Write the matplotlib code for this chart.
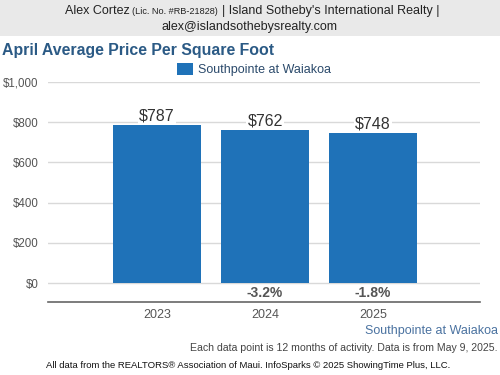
import matplotlib
matplotlib.use("Agg")
import matplotlib.pyplot as plt
from matplotlib.patches import Rectangle

plt.rcParams['font.family'] = ['Liberation Sans', 'DejaVu Sans']

years = ['2023', '2024', '2025']
prices = [787, 762, 748]
pct_change = ['', '-3.2%', '-1.8%']
series_name = 'Southpointe at Waiakoa'
yticks = [0, 200, 400, 600, 800, 1000]

BAR = '#1f72b8'
W, H = 500, 375

fig = plt.figure(figsize=(5, 3.75), dpi=100)

# header band
fig.patches.append(Rectangle((0, 1 - 36 / H), 1, 36 / H, transform=fig.transFigure,
                             facecolor='#e9e9e9', edgecolor='none', zorder=0))
fig.text(65 / W, 1 - 11 / H, 'Alex Cortez', ha='left', va='center', fontsize=9, color='#222')
fig.text(132 / W, 1 - 11.5 / H, '(Lic. No. #RB-21828)', ha='left', va='center', fontsize=6.6, color='#222')
fig.text(222 / W, 1 - 11 / H, '| Island Sotheby\'s International Realty |', ha='left',
         va='center', fontsize=9, color='#222')
fig.text(0.5, 1 - 27 / H, 'alex@islandsothebysrealty.com', ha='center', va='center',
         fontsize=9, color='#222')

fig.text(2 / W, 1 - 50 / H, 'April Average Price Per Square Foot', ha='left', va='center',
         fontsize=11.4, fontweight='bold', color='#2b5a85')

# legend
fig.patches.append(Rectangle((177 / W, 1 - 75 / H), 16 / W, 12 / H, transform=fig.transFigure,
                             facecolor=BAR, edgecolor='none'))
fig.text(198 / W, 1 - 69.5 / H, series_name, ha='left', va='center', fontsize=9, color='#2b4a6b')

ax = fig.add_axes([48 / W, 1 - 302 / H, 432 / W, 220 / H])
ax.set_axisbelow(True)
x = list(range(len(years)))
ax.bar(x, prices, width=88 / 108, color=BAR, zorder=2)
ax.set_xlim(-1.01, 2.99)
ax.set_ylim(-94.5, 1000)
ax.set_yticks(yticks)
ax.set_yticklabels(['${:,}'.format(v) for v in yticks])
ax.set_xticks([])
ax.grid(axis='y', color='#d9d9d9', lw=1)
ax.tick_params(axis='y', length=0, pad=7, labelsize=8.3, labelcolor='#555')
for s in ['left', 'right', 'top']:
    ax.spines[s].set_visible(False)
ax.spines['bottom'].set_color('#666')
ax.spines['bottom'].set_linewidth(1.2)

for xi, v, p, yr in zip(x, prices, pct_change, years):
    # label box sits under the bar so it only hides the gridline
    ax.text(xi, v + 6, '${}'.format(v), ha='center', va='bottom', fontsize=11.5, color='#333',
            zorder=1, bbox=dict(facecolor='white', edgecolor='none', pad=1))
    if p:
        ax.text(xi, -52, p, ha='center', va='center', fontsize=10, fontweight='bold', color='#555')
    ax.annotate(yr, (xi, 0), xycoords=('data', 'axes fraction'), xytext=(0, -9.4),
                textcoords='offset points', ha='center', va='center', fontsize=9, color='#555')

fig.text(498 / W, 1 - 331 / H, series_name, ha='right', va='center', fontsize=9, color='#4a72a0')
fig.text(497 / W, 1 - 348 / H, 'Each data point is 12 months of activity. Data is from May 9, 2025.',
         ha='right', va='center', fontsize=7.6, color='#444')
fig.text(248 / W, 1 - 366 / H,
         'All data from the REALTORS\u00ae Association of Maui. InfoSparks \u00a9 2025 ShowingTime Plus, LLC.',
         ha='center', va='center', fontsize=6.8, color='#111')

fig.savefig('out.png', dpi=100)
